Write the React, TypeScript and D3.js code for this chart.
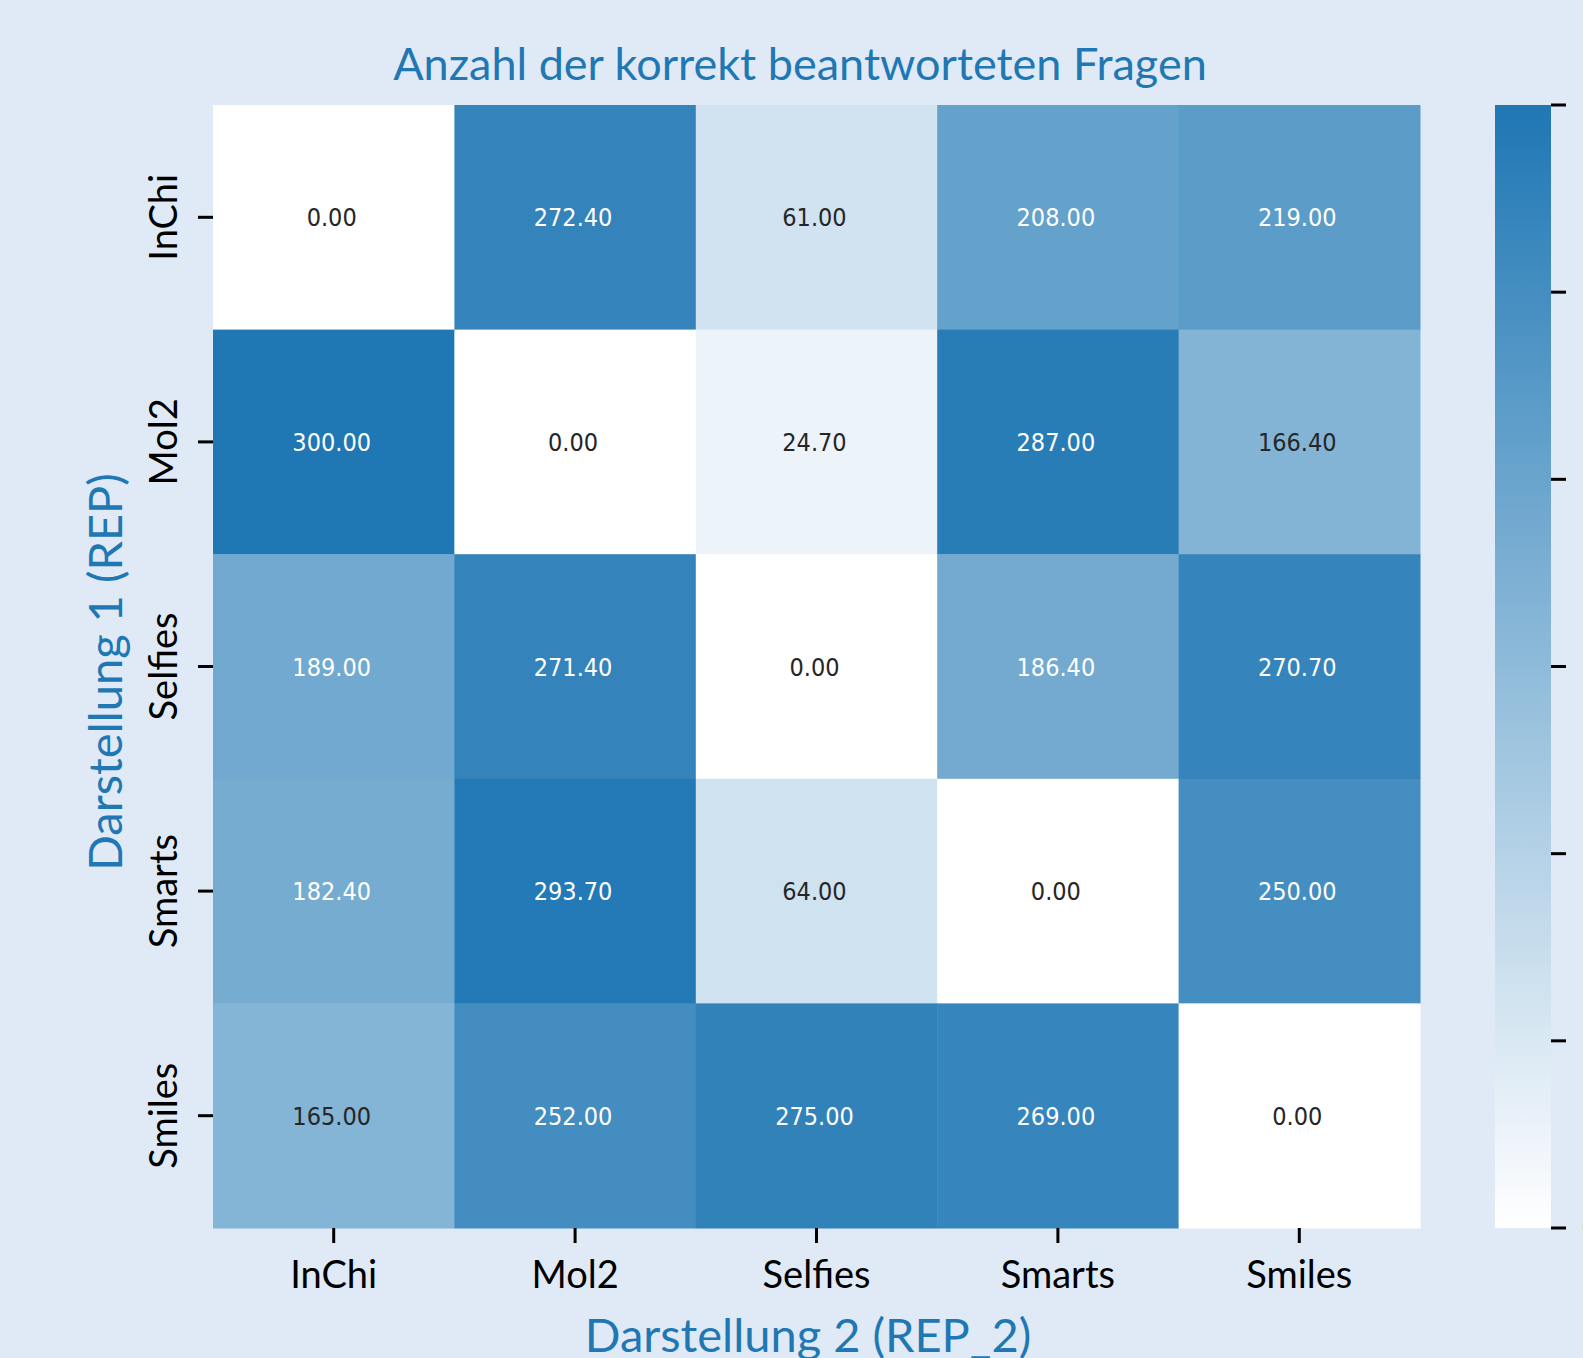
import * as d3 from 'd3';
import * as React from 'react';

const W = 1583;
const H = 1358;

const rowLabels = ['InChi', 'Mol2', 'Selfies', 'Smarts', 'Smiles'];
const colLabels = ['InChi', 'Mol2', 'Selfies', 'Smarts', 'Smiles'];
const inchiRow = [0, 272.4, 61, 208, 219];
const mol2Row = [300, 0, 24.7, 287, 166.4];
const selfiesRow = [189, 271.4, 0, 186.4, 270.7];
const smartsRow = [182.4, 293.7, 64, 0, 250];
const smilesRow = [165, 252, 275, 269, 0];
const colorbarTicks = [0, 50, 100, 150, 200, 250, 300];

const TITLE = 'Anzahl der korrekt beantworteten Fragen';
const X_LABEL = 'Darstellung 2 (REP_2)';
const Y_LABEL = 'Darstellung 1 (REP)';

const BG = '#dfeaf6';
const BLUE = '#1f77b4';
const FONT = 'Lato, "Open Sans", sans-serif';
const NUM_FONT = '"DejaVu Sans Condensed", "DejaVu Sans", sans-serif';

// heatmap box
const LEFT = 213;
const RIGHT = 1420;
const TOP = 105;
const BOTTOM = 1228;
// colorbar box
const CB_LEFT = 1495;
const CB_RIGHT = 1551;

function luminance(c: string) {
  const rgb = d3.rgb(c);
  const lin = (v: number) => {
    const s = v / 255;
    return s <= 0.03928 ? s / 12.92 : Math.pow((s + 0.055) / 1.055, 2.4);
  };
  return 0.2126 * lin(rgb.r) + 0.7152 * lin(rgb.g) + 0.0722 * lin(rgb.b);
}

export default function App() {
  const ref = React.useRef<SVGSVGElement>(null);

  React.useEffect(() => {
    const svg = d3.select(ref.current);
    svg.selectAll('*').remove();

    const matrix = [inchiRow, mol2Row, selfiesRow, smartsRow, smilesRow];
    const cells = matrix.flatMap((row, i) => row.map((v, j) => ({ i, j, v })));

    const x = d3.scaleBand<string>().domain(colLabels).range([LEFT, RIGHT]);
    const y = d3.scaleBand<string>().domain(rowLabels).range([TOP, BOTTOM]);
    const color = d3
      .scaleLinear<string>()
      .domain([0, 300])
      .range(['#ffffff', BLUE])
      .interpolate(d3.interpolateRgb);

    svg.append('rect').attr('width', W).attr('height', H).attr('fill', BG);

    // cells
    svg
      .selectAll('.cell')
      .data(cells)
      .enter()
      .append('rect')
      .attr('class', 'cell')
      .attr('x', d => x(colLabels[d.j]) as number)
      .attr('y', d => y(rowLabels[d.i]) as number)
      .attr('width', x.bandwidth() + 0.5)
      .attr('height', y.bandwidth() + 0.5)
      .attr('fill', d => color(d.v));

    svg
      .selectAll('.annot')
      .data(cells)
      .enter()
      .append('text')
      .attr('class', 'annot')
      .attr('x', d => (x(colLabels[d.j]) as number) + x.bandwidth() / 2 - 2)
      .attr('y', d => (y(rowLabels[d.i]) as number) + y.bandwidth() / 2)
      .attr('dy', '0.36em')
      .attr('text-anchor', 'middle')
      .attr('font-family', NUM_FONT)
      .attr('font-size', 25)
      .attr('fill', d => (luminance(color(d.v)) > 0.408 ? '#262626' : '#ffffff'))
      .text(d => d.v.toFixed(2));

    // x axis
    const xAxis = svg.append('g').attr('transform', `translate(0,${BOTTOM})`);
    colLabels.forEach(c => {
      const cx = (x(c) as number) + x.bandwidth() / 2;
      xAxis
        .append('line')
        .attr('x1', cx)
        .attr('x2', cx)
        .attr('y1', 0)
        .attr('y2', 15)
        .attr('stroke', '#000')
        .attr('stroke-width', 3);
      xAxis
        .append('text')
        .attr('x', cx)
        .attr('y', 60)
        .attr('text-anchor', 'middle')
        .attr('font-family', FONT)
        .attr('font-size', 38)
        .attr('fill', '#000')
        .text(c);
    });

    // y axis
    const yAxis = svg.append('g');
    rowLabels.forEach(r => {
      const cy = (y(r) as number) + y.bandwidth() / 2;
      yAxis
        .append('line')
        .attr('x1', LEFT - 15)
        .attr('x2', LEFT)
        .attr('y1', cy)
        .attr('y2', cy)
        .attr('stroke', '#000')
        .attr('stroke-width', 3);
      yAxis
        .append('text')
        .attr('transform', `translate(177,${cy}) rotate(-90)`)
        .attr('text-anchor', 'middle')
        .attr('font-family', FONT)
        .attr('font-size', 38)
        .attr('fill', '#000')
        .text(r);
    });

    // colorbar
    const grad = svg
      .append('defs')
      .append('linearGradient')
      .attr('id', 'cbgrad')
      .attr('x1', 0)
      .attr('x2', 0)
      .attr('y1', 1)
      .attr('y2', 0);
    d3.range(0, 1.0001, 0.1).forEach(t => {
      grad
        .append('stop')
        .attr('offset', t)
        .attr('stop-color', color(t * 300));
    });
    svg
      .append('rect')
      .attr('x', CB_LEFT)
      .attr('y', TOP)
      .attr('width', CB_RIGHT - CB_LEFT)
      .attr('height', BOTTOM - TOP)
      .attr('fill', 'url(#cbgrad)');

    const cbScale = d3.scaleLinear().domain([0, 300]).range([BOTTOM, TOP]);
    colorbarTicks.forEach(t => {
      svg
        .append('line')
        .attr('x1', CB_RIGHT)
        .attr('x2', CB_RIGHT + 15)
        .attr('y1', cbScale(t))
        .attr('y2', cbScale(t))
        .attr('stroke', '#000')
        .attr('stroke-width', 3);
      svg
        .append('text')
        .attr('x', CB_RIGHT + 31)
        .attr('y', cbScale(t))
        .attr('dy', '0.35em')
        .attr('font-family', FONT)
        .attr('font-size', 38)
        .attr('fill', '#000')
        .text(t);
    });

    // titles
    svg
      .append('text')
      .attr('x', 800)
      .attr('y', 80)
      .attr('text-anchor', 'middle')
      .attr('font-family', FONT)
      .attr('font-size', 45)
      .attr('fill', BLUE)
      .text(TITLE);

    svg
      .append('text')
      .attr('x', 808)
      .attr('y', 1352)
      .attr('text-anchor', 'middle')
      .attr('font-family', FONT)
      .attr('font-size', 47)
      .attr('fill', BLUE)
      .text(X_LABEL);

    svg
      .append('text')
      .attr('transform', `translate(122,672) rotate(-90)`)
      .attr('text-anchor', 'middle')
      .attr('font-family', FONT)
      .attr('font-size', 47)
      .attr('fill', BLUE)
      .text(Y_LABEL);
  }, []);

  return (
    <svg
      ref={ref}
      width={W}
      height={H}
      style={{ position: 'absolute', left: 0, top: 0, display: 'block' }}
    />
  );
}
